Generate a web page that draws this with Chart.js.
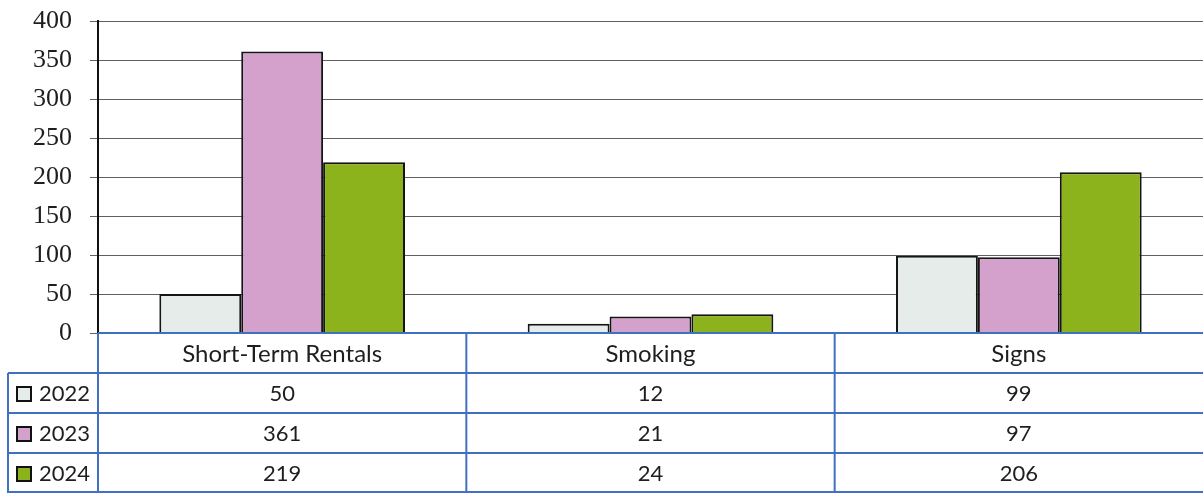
<!DOCTYPE html>
<html>
<head>
<meta charset="utf-8">
<script src="https://cdn.jsdelivr.net/npm/chart.js@4"></script>
<style>
  html, body { margin: 0; padding: 0; background: #fff; }
  #wrap { width: 1203px; height: 493px; position: relative; }
</style>
</head>
<body>
<div id="wrap"><canvas id="chart"></canvas></div>
<script>
/// Categories and yearly counts
const categories = ["Short-Term Rentals", "Smoking", "Signs"];
const years = ["2022", "2023", "2024"];
const values2022 = [50, 12, 99];
const values2023 = [361, 21, 97];
const values2024 = [219, 24, 206];
const yTicks = [0, 50, 100, 150, 200, 250, 300, 350, 400];

const COLORS = ["#e6ece9", "#d3a1cb", "#8cb31b"];
const TABLE_BLUE = "#4070c0";
const HEAD_FONT = "24px Lato, 'Open Sans', sans-serif";
const CELL_FONT = "22px Lato, 'Open Sans', sans-serif";

// ── Data table drawn under the plot area ────────────────────────────
const dataTable = {
  id: "dataTable",
  afterDraw(chart) {
    const { ctx, chartArea: ca, scales } = chart;
    const x = scales.x;
    const half = (ca.right - ca.left) / categories.length / 2;
    const rowH = 40;
    const top = ca.bottom;
    const legendLeft = 8;
    const rows = [values2022, values2023, values2024];

    ctx.save();
    // header labels
    ctx.fillStyle = "#1e1e1e";
    ctx.font = HEAD_FONT;
    ctx.textAlign = "center";
    ctx.textBaseline = "middle";
    categories.forEach((c, i) => ctx.fillText(c, x.getPixelForValue(i), top + rowH / 2 + 1));

    ctx.font = CELL_FONT;
    rows.forEach((vals, r) => {
      const cy = top + rowH * (r + 1) + rowH / 2 + 1;
      vals.forEach((v, i) => ctx.fillText(String(v), x.getPixelForValue(i), cy));
      // legend key
      ctx.fillStyle = COLORS[r];
      ctx.fillRect(legendLeft + 9, cy - 7, 14, 14);
      ctx.strokeStyle = "#111";
      ctx.lineWidth = 2;
      ctx.strokeRect(legendLeft + 9, cy - 7, 14, 14);
      ctx.fillStyle = "#1e1e1e";
      ctx.textAlign = "left";
      ctx.fillText(years[r], legendLeft + 31, cy);
      ctx.textAlign = "center";
    });

    // grid lines
    ctx.strokeStyle = TABLE_BLUE;
    ctx.lineWidth = 2;
    ctx.beginPath();
    ctx.moveTo(ca.left, top); ctx.lineTo(ca.right, top);
    for (let r = 1; r <= 3; r++) {
      ctx.moveTo(legendLeft, top + rowH * r); ctx.lineTo(ca.right, top + rowH * r);
    }
    ctx.moveTo(legendLeft, top + rowH * 4 - 1); ctx.lineTo(ca.right, top + rowH * 4 - 1);
    ctx.moveTo(ca.left, top); ctx.lineTo(ca.left, top + rowH * 4);
    for (let i = 1; i < categories.length; i++) {
      const bx = x.getPixelForValue(i) - half;
      ctx.moveTo(bx, top); ctx.lineTo(bx, top + rowH * 4);
    }
    ctx.moveTo(legendLeft, top + rowH); ctx.lineTo(legendLeft, top + rowH * 4);
    ctx.stroke();
    ctx.restore();
  }
};

function ds(label, data, color) {
  return {
    label, data,
    backgroundColor: color,
    borderColor: "#151515",
    borderWidth: 2,
    categoryPercentage: 0.667,
    barPercentage: 1.0
  };
}

new Chart(document.getElementById("chart"), {
  type: "bar",
  data: {
    labels: categories,
    datasets: [
      ds(years[0], values2022, COLORS[0]),
      ds(years[1], values2023, COLORS[1]),
      ds(years[2], values2024, COLORS[2])
    ]
  },
  options: {
    animation: false,
    responsive: true,
    maintainAspectRatio: false,
    layout: { padding: { top: 21, bottom: 160, left: 0, right: 0 } },
    plugins: { legend: { display: false }, tooltip: { enabled: false } },
    scales: {
      x: { display: false },
      y: {
        min: 0, max: 400,
        afterFit(scale) {
          scale.width = 98;
          scale.paddingTop = 0;
          scale.paddingBottom = 0;
        },
        afterBuildTicks(scale) { scale.ticks = yTicks.map(v => ({ value: v })); },
        border: { color: "#111", width: 2 },
        grid: { color: "#606060", lineWidth: 1, tickLength: 8, tickColor: "#606060" },
        ticks: {
          color: "#1e1e1e",
          padding: 18,
          font: { family: "'Liberation Serif', 'DejaVu Serif', serif", size: 26 }
        }
      }
    }
  },
  plugins: [dataTable]
});
</script>
</body>
</html>
